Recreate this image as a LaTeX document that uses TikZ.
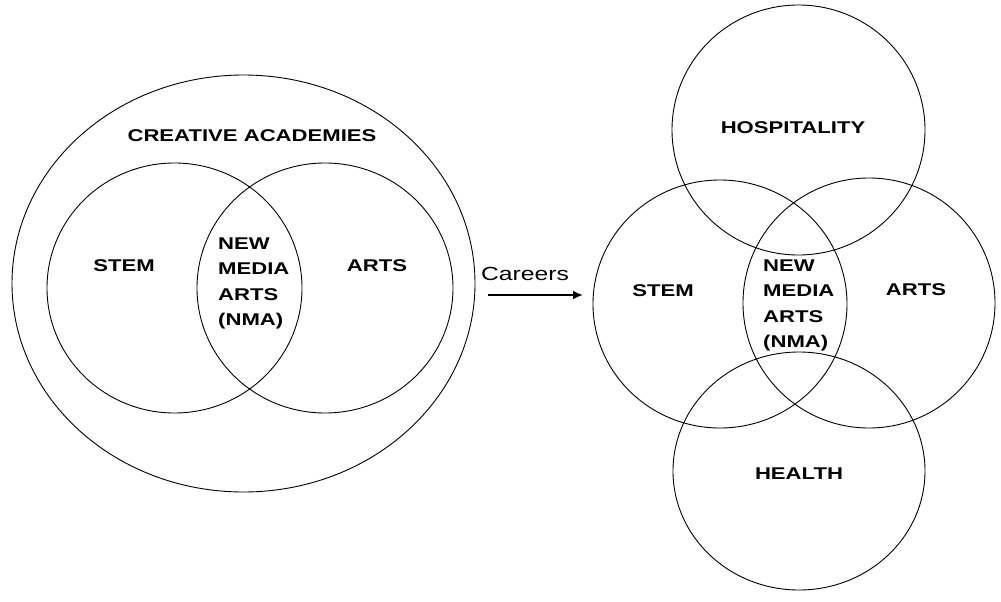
\documentclass[tikz,border=0pt]{standalone}
\usepackage{fontspec}
\setmainfont{Liberation Sans}[FakeStretch=1.3]
\usepackage{tikz}
\usetikzlibrary{arrows,arrows.meta,positioning,shapes.geometric}
\tikzset{%
	set/.style      = {draw, ellipse, inner sep=0pt, line width=0.9pt}, % Venn set
	setlabel/.style = {font=\bfseries\fontsize{17}{25.5}\selectfont, anchor=base, inner sep=0pt},
	overlap/.style  = {font=\bfseries\fontsize{17}{25.5}\selectfont, anchor=north west, inner sep=0pt, align=left},
	arrow/.style    = {line width=2.2pt,-{Latex[length=10pt,width=9pt]}},
}

\begin{document}
\begin{tikzpicture}[x=1pt,y=-1pt]
	\useasboundingbox (0,0) rectangle (1001,602);
	% left: creative academies
	\node [set,minimum width=463pt,minimum height=417pt] (academies) at (243.5,283.5) {};
	\node [set,minimum width=255pt,minimum height=250pt] (stemL) at (174.5,288) {};
	\node [set,minimum width=256pt,minimum height=250pt] (artsL) at (325,288) {};
	\node [setlabel] (academiesT) at (252,141.7) {CREATIVE ACADEMIES};
	\node [setlabel] (stemLT) at (124,271.7) {STEM};
	\node [setlabel] (artsLT) at (377,271) {ARTS};
	\node [overlap] (nmaL) at (218,237.3) {NEW\\MEDIA\\ARTS\\(NMA)};
	
	% right: careers
	\node [set,minimum width=253pt,minimum height=250pt] (hospitality) at (798.5,130) {};
	\node [set,minimum width=254pt,minimum height=248pt] (stemR) at (720,304) {};
	\node [set,minimum width=252pt,minimum height=250pt] (artsR) at (869,303) {};
	\node [set,minimum width=252pt,minimum height=238pt] (health) at (799,471) {};
	\node [setlabel] (hospitalityT) at (793,133.3) {HOSPITALITY};
	\node [setlabel] (stemRT) at (663,296.7) {STEM};
	\node [setlabel] (artsRT) at (916,295) {ARTS};
	\node [setlabel] (healthT) at (799,479) {HEALTH};
	\node [overlap] (nmaR) at (763,259.5) {NEW\\MEDIA\\ARTS\\(NMA)};
	
	\coordinate (from) at (488,295);
	\coordinate (to) at (583,295);
	\draw[arrow] (from) -- node[pos=0.39,above=13pt,font=\fontsize{19}{22}\selectfont,inner sep=0pt] {Careers} (to);
\end{tikzpicture}
\end{document}
